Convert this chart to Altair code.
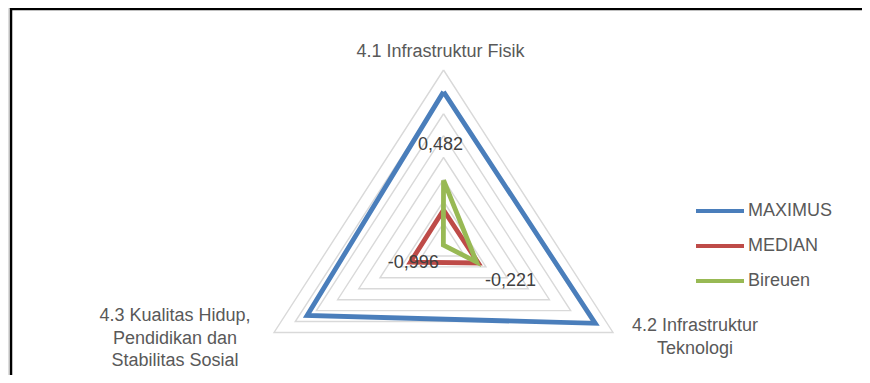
import altair as alt
import pandas as pd

# ---- data ----
categories = ["4.1 Infrastruktur Fisik", "4.2 Infrastruktur Teknologi",
              "4.3 Kualitas Hidup, Pendidikan dan Stabilitas Sosial"]
category_lines = ["4.1 Infrastruktur Fisik", "4.2 Infrastruktur\nTeknologi",
                  "4.3 Kualitas Hidup,\nPendidikan dan\nStabilitas Sosial"]
series = ["MAXIMUS", "MEDIAN", "Bireuen"]
maximus = [2.50, 2.58, 2.22]
median = [-0.20, -0.18, -0.22]
bireuen = [0.482, -0.221, -0.996]
colors = ["#4A7EBB", "#BE4B48", "#98B954"]
grid_levels = [-0.5, 0, 0.5, 1, 1.5, 2, 2.5, 3]
axis_min, axis_max = -1, 3

# ---- tables ----
rows = []
for s, vals in zip(series, [maximus, median, bireuen]):
    for i in range(4):
        rows.append({"series": s, "idx": i, "value": vals[i % 3], "cat": categories[i % 3]})
df_series = pd.DataFrame(rows)

grid_rows = []
for lv in grid_levels:
    for i in range(4):
        grid_rows.append({"level": lv, "idx": i, "value": lv})
df_grid = pd.DataFrame(grid_rows)

df_labels = pd.DataFrame({"idx": [0, 1, 2], "value": [axis_max] * 3, "label": category_lines})
df_bir = pd.DataFrame({"idx": [0, 1, 2], "value": bireuen})

W, H = 854, 367
xs = alt.Scale(domain=[-2.2257, 2.1385], nice=False, zero=False)
ys = alt.Scale(domain=[-0.7429, 1.3543], nice=False, zero=False)
FONT = "Liberation Sans"


def polar(ch):
    return ch.transform_calculate(
        r=f"(datum.value - ({axis_min})) / ({axis_max} - ({axis_min}))",
        a="datum.idx * 2 * PI / 3",
    ).transform_calculate(
        px="datum.r * sin(datum.a)",
        py="datum.r * cos(datum.a)",
    )


X = alt.X("px:Q", scale=xs, axis=None)
Y = alt.Y("py:Q", scale=ys, axis=None)

grid = polar(alt.Chart(df_grid).mark_line(stroke="#D9D9D9", strokeWidth=1.4)).encode(
    x=X, y=Y, detail="level:N", order="idx:Q"
)

lines = polar(alt.Chart(df_series).mark_line(strokeWidth=4.8, strokeJoin="miter")).encode(
    x=X, y=Y,
    color=alt.Color(
        "series:N",
        scale=alt.Scale(domain=series, range=colors),
        sort=series,
        legend=alt.Legend(
            title=None, orient="none", legendX=686, legendY=177,
            symbolType="stroke", symbolSize=2304, symbolStrokeWidth=4,
            labelFontSize=18, labelColor="#595959", labelFont=FONT,
            labelOffset=2, rowPadding=-1,
        ),
    ),
    detail="series:N",
    order="idx:Q",
)

def dlabel(i, dx, dy):
    return polar(
        alt.Chart(df_bir).transform_filter(f"datum.idx == {i}")
        .transform_calculate(
            txt="replace(replace(format(datum.value, '.3f'), '.', ','), '\u2212', '-')")
        .mark_text(fontSize=18, color="#404040", font=FONT, dx=dx, dy=dy,
                   align="center", baseline="middle")
    ).encode(x=X, y=Y, text="txt:N")

def clabel(i, dx, dy, baseline):
    return polar(
        alt.Chart(df_labels).transform_filter(f"datum.idx == {i}")
        .mark_text(fontSize=18, color="#595959", font=FONT, dx=dx, dy=dy,
                   align="center", baseline=baseline, lineBreak="\n", lineHeight=22.5)
    ).encode(x=X, y=Y, text="label:N")

frame_top = alt.Chart(alt.Data(values=[{}])).mark_rule(color="#000000", strokeWidth=2.5).encode(
    x=alt.value(3), x2=alt.value(W), y=alt.value(1)
)
frame_left = alt.Chart(alt.Data(values=[{}])).mark_rule(color="#000000", strokeWidth=2.5).encode(
    x=alt.value(3), y=alt.value(0), y2=alt.value(H)
)

chart = alt.layer(
    grid, lines,
    dlabel(0, -3, -35), dlabel(1, 34, 19), dlabel(2, -30, 18),
    clabel(0, -3, -18, "middle"), clabel(1, 82, -15, "top"), clabel(2, -99, -25, "top"),
    frame_top, frame_left,
).properties(
    width=W, height=H, autosize=alt.AutoSizeParams(type="none"), padding=0,
).configure_view(stroke=None).configure(background="white")

chart.save("out.html", embed_options={"renderer": "svg", "actions": False})
